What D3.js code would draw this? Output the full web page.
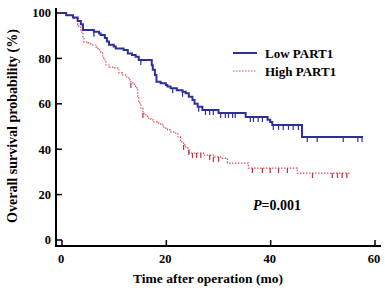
<!DOCTYPE html>
<html lang="en">
<head>
<meta charset="UTF-8">
<title>Overall survival by PART1</title>
<style>
  body { margin: 0; background: #ffffff; }
  svg text { font-family: "Liberation Serif", "Times New Roman", serif; font-weight: bold; fill: #000; }
</style>
</head>
<body>
<svg id="chart" width="385" height="291"></svg>
<script src="https://d3js.org/d3.v7.min.js"></script>
<script>
// Kaplan-Meier steps: time (mo) of each drop and survival (%) after it
const lowTimes = [1.0, 2.3, 3.2, 3.8, 4.2, 6.3, 7.3, 7.6, 8.4, 8.8, 9.2, 10.1, 10.5, 12.0, 12.8, 13.6, 14.3, 14.9,
    17.4, 17.6, 18.0, 18.3, 19.1, 20.1, 20.4, 21.0, 22.2, 23.3, 23.9, 24.5, 25.2, 25.6, 26.2, 27.1, 30.2, 35.4,
    39.6, 40.1, 40.5, 46.2];
const lowSurv = [99, 98, 96.5, 95, 92.5, 91.7, 91, 90.3, 89, 87.5, 86, 85.2, 84.4, 83.7, 82.2, 81.5, 80.7, 79.3,
    77, 75, 72.7, 69.7, 69, 68.3, 67.6, 66.9, 66, 65.3, 64.6, 63.1, 61.7, 60, 58.7, 57.3, 56, 54.2,
    53, 52, 50.7, 45.4];
const lowEnd = 57.9;
const lowCensor = [6.3, 15.3, 21.4, 23.3, 26.4, 27.7, 28.5, 29.2, 30.6, 31.5, 32.1, 32.9, 33.4, 36.3, 36.9, 37.8,
    38.6, 40.7, 41.7, 42.6, 43.6, 44.5, 45.5, 47.2, 49.1, 54.1, 56.9, 57.7];

const highTimes = [1.0, 2.3, 3.2, 3.4, 3.8, 4.2, 4.4, 5.2, 5.7, 6.7, 7.1, 7.6, 8.0, 8.2, 8.6, 9.2, 10.1, 10.9,
    11.1, 11.8, 12.4, 13.0, 13.4, 14.1, 14.3, 14.7, 14.9, 15.3, 15.7, 15.9, 16.6, 17.2, 17.8, 18.5, 19.1, 19.7,
    20.4, 21.0, 21.6, 22.4, 22.9, 23.5, 23.9, 24.3, 24.6, 27.3, 29.2, 30.6, 31.9, 35.9, 45.3];
const highSurv = [99, 97.5, 95, 93.8, 91.6, 89, 87.2, 86.8, 85.9, 85, 83.7, 82.4, 80.6, 79.3, 77.1, 76.2, 75.8, 74.9,
    73.6, 72.7, 71.8, 70.5, 69.2, 68.3, 67, 62.6, 60.4, 58.1, 55.9, 55.1, 53.7, 52.9, 52, 51.5, 50.7, 49.3,
    48.5, 47.6, 47.1, 45.4, 43.2, 41.9, 41, 39.6, 38.3, 37.4, 36.6, 36, 33.9, 31.7, 29.5];
const highEnd = 55.4;
const highCensor = [13.4, 15.7, 23.5, 24.5, 25.2, 26.0, 26.8, 28.5, 29.2, 30.2, 36.7, 38.6, 40.1, 41.7, 43.4,
    48.2, 52.0, 53.0, 53.9, 54.8];

const xTicks = [0, 20, 40, 60];
const yTicks = [0, 20, 40, 60, 80, 100];

const svg = d3.select("#chart");
const x = d3.scaleLinear().domain([0, 60]).range([61, 374]);
const y = d3.scaleLinear().domain([0, 100]).range([240, 13]);

const blue = "#2e3192";
const red = "#d9505c";

// axes
const axisX = 56, axisY = 246;
svg.append("line").attr("x1", axisX).attr("x2", axisX).attr("y1", 8).attr("y2", axisY + 1)
    .attr("stroke", "#000").attr("stroke-width", 2);
svg.append("line").attr("x1", axisX - 1).attr("x2", 381).attr("y1", axisY).attr("y2", axisY)
    .attr("stroke", "#000").attr("stroke-width", 2);

yTicks.forEach(v => {
    svg.append("line").attr("x1", axisX).attr("x2", axisX + 6).attr("y1", y(v)).attr("y2", y(v))
        .attr("stroke", "#000").attr("stroke-width", 1.5);
    svg.append("text").attr("x", 51).attr("y", y(v)).attr("dy", "0.35em")
        .attr("text-anchor", "end").style("font-size", "12.5px").text(v);
});
xTicks.forEach(v => {
    svg.append("line").attr("x1", x(v) + 1).attr("x2", x(v) + 1).attr("y1", axisY).attr("y2", axisY - 6)
        .attr("stroke", "#000").attr("stroke-width", 1.5);
    svg.append("text").attr("x", x(v)).attr("y", 263)
        .attr("text-anchor", "middle").style("font-size", "12.5px").text(v);
});

svg.append("text").attr("x", 208).attr("y", 283).attr("text-anchor", "middle")
    .style("font-size", "13.5px").text("Time after operation (mo)");
svg.append("text").attr("transform", "translate(17,126) rotate(-90)").attr("text-anchor", "middle")
    .style("font-size", "14px").text("Overall survival probability (%)");

// curves
function stepPoints(times, surv, end) {
    const pts = [[0, 100]];
    times.forEach((t, i) => pts.push([t, surv[i]]));
    pts.push([end, surv[surv.length - 1]]);
    return pts;
}
function survAt(times, surv, t) {
    let p = 100;
    times.forEach((tt, i) => { if (tt <= t) p = surv[i]; });
    return p;
}
const line = d3.line().x(d => x(d[0])).y(d => y(d[1])).curve(d3.curveStepAfter);

function drawGroup(times, surv, end, censor, color, width, dash, tickColor) {
    svg.append("path").datum(stepPoints(times, surv, end))
        .attr("d", line).attr("fill", "none").attr("stroke", color)
        .attr("stroke-width", width).attr("stroke-dasharray", dash);
    svg.append("g").selectAll("line").data(censor).join("line")
        .attr("x1", d => x(d)).attr("x2", d => x(d))
        .attr("y1", d => y(survAt(times, surv, d)))
        .attr("y2", d => y(survAt(times, surv, d)) + 5)
        .attr("stroke", tickColor).attr("stroke-width", 1.2);
}
drawGroup(highTimes, highSurv, highEnd, highCensor, red, 1.2, "1.5,1.5", "#b03545");
drawGroup(lowTimes, lowSurv, lowEnd, lowCensor, blue, 2, null, blue);

// legend
svg.append("line").attr("x1", 233).attr("x2", 257).attr("y1", 53).attr("y2", 53)
    .attr("stroke", blue).attr("stroke-width", 2);
svg.append("text").attr("x", 265).attr("y", 58).style("font-size", "13px").text("Low PART1");
svg.append("line").attr("x1", 233).attr("x2", 257).attr("y1", 71).attr("y2", 71)
    .attr("stroke", red).attr("stroke-width", 1.2).attr("stroke-dasharray", "1.5,1.5");
svg.append("text").attr("x", 265).attr("y", 76).style("font-size", "13px").text("High PART1");

const pText = svg.append("text").attr("x", 253).attr("y", 210).style("font-size", "14px");
pText.append("tspan").style("font-style", "italic").text("P");
pText.append("tspan").text("=0.001");
</script>
</body>
</html>
